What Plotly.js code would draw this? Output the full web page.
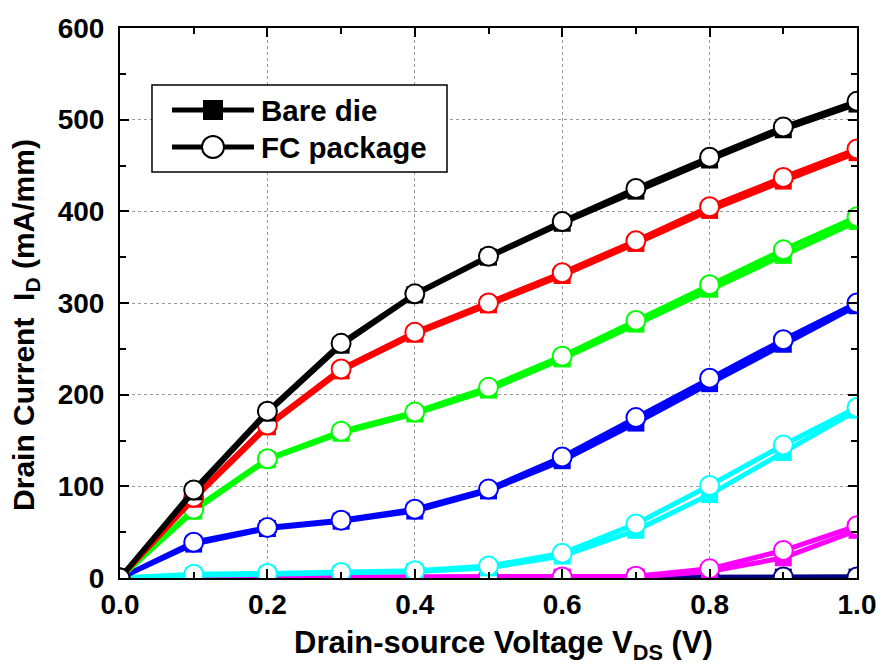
<!DOCTYPE html>
<html>
<head>
<meta charset="utf-8">
<script src="https://cdn.plot.ly/plotly-3.0.1.min.js"></script>
<style>html,body{margin:0;padding:0;background:#fff;}#chart{width:883px;height:669px;}</style>
</head>
<body>
<div id="chart"></div>
<script>
const vds = [0.0, 0.1, 0.2, 0.3, 0.4, 0.5, 0.6, 0.7, 0.8, 0.9, 1.0];
const colors = ['#000080', '#ff00ff', '#00ffff', '#0000ff', '#00ff00', '#ff0000', '#000000'];
const bareNavy    = [0, 0, 0, 0, 0, 0, 0, 0, 1, 1, 1];
const fcNavy      = [0, 0, 0, 0, 0, 0, 0, 0, 1, 1, 1];
const bareMagenta = [0, 0, 0, 0, 1, 1, 1, 1, 7, 22, 52];
const fcMagenta   = [0, 1, 1, 1, 1, 1, 1, 2, 10, 30, 57];
const bareCyan    = [0, 3, 4, 5, 7, 11, 24, 52, 91, 137, 183];
const fcCyan      = [0, 4, 5, 6, 8, 13, 27, 59, 101, 145, 186];
const bareBlue    = [0, 37, 54, 62, 73, 95, 128, 169, 212, 255, 297];
const fcBlue      = [0, 39, 55, 63, 75, 97, 132, 175, 218, 260, 300];
const bareGreen   = [0, 73, 129, 158, 179, 205, 239, 277, 315, 352, 389];
const fcGreen     = [0, 75, 130, 160, 181, 208, 242, 281, 320, 358, 394];
const bareRed     = [0, 86, 165, 226, 266, 298, 330, 365, 401, 433, 464];
const fcRed       = [0, 88, 167, 228, 268, 300, 333, 368, 405, 437, 468];
const bareBlack   = [0, 94, 180, 254, 309, 350, 387, 422, 456, 489, 517];
const fcBlack     = [0, 96, 182, 256, 310, 351, 389, 425, 459, 492, 520];
const seriesNames = ['Bare die', 'FC package'];
const xTitle = 'Drain-source Voltage V<sub>DS</sub> (V)';
const yTitle = 'Drain Current  I<sub>D</sub> (mA/mm)';

const bare = [bareNavy, bareMagenta, bareCyan, bareBlue, bareGreen, bareRed, bareBlack];
const fc = [fcNavy, fcMagenta, fcCyan, fcBlue, fcGreen, fcRed, fcBlack];

const traces = [];
for (let i = 0; i < colors.length; i++) {
  const c = colors[i];
  traces.push({
    x: vds, y: bare[i], type: 'scatter', mode: 'lines+markers',
    name: seriesNames[0], showlegend: false,
    line: {color: c, width: 5},
    marker: {symbol: 'square', size: 17, color: c, line: {width: 0}}
  });
  traces.push({
    x: vds, y: fc[i], type: 'scatter', mode: 'lines+markers',
    name: seriesNames[1], showlegend: false,
    line: {color: c, width: 5},
    marker: {symbol: 'circle', size: 19, color: '#ffffff', line: {color: c, width: 2}}
  });
}

const FONT = 'Liberation Sans, Arial, sans-serif';
const tickFont = {family: FONT, size: 28, color: '#000', weight: 'bold'};

// custom legend (paper coordinates = plot area fractions)
const lg = {x0: 0.0434, x1: 0.4437, y0: 0.7382, y1: 0.8964,
            lx0: 0.0706, lx1: 0.1818, mx: 0.1262, tx: 0.1887, rows: [0.8509, 0.7836]};
const shapes = [
  {type: 'rect', xref: 'paper', yref: 'paper', x0: lg.x0, x1: lg.x1, y0: lg.y0, y1: lg.y1,
   line: {color: '#000', width: 1.5}, fillcolor: '#fff', layer: 'above'},
  {type: 'line', xref: 'paper', yref: 'paper', x0: lg.lx0, x1: lg.lx1, y0: lg.rows[0], y1: lg.rows[0],
   line: {color: '#000', width: 5}, layer: 'above'},
  {type: 'rect', xref: 'paper', yref: 'paper', xsizemode: 'pixel', ysizemode: 'pixel',
   xanchor: lg.mx, yanchor: lg.rows[0], x0: -10, x1: 10, y0: -10, y1: 10,
   line: {width: 0}, fillcolor: '#000', layer: 'above'},
  {type: 'line', xref: 'paper', yref: 'paper', x0: lg.lx0, x1: lg.lx1, y0: lg.rows[1], y1: lg.rows[1],
   line: {color: '#000', width: 5}, layer: 'above'},
  {type: 'circle', xref: 'paper', yref: 'paper', xsizemode: 'pixel', ysizemode: 'pixel',
   xanchor: lg.mx, yanchor: lg.rows[1], x0: -11, x1: 11, y0: -11, y1: 11,
   line: {color: '#000', width: 2}, fillcolor: '#fff', layer: 'above'}
];
const annotations = seriesNames.map((n, k) => ({
  xref: 'paper', yref: 'paper', x: lg.tx, y: lg.rows[k], xanchor: 'left', yanchor: 'middle',
  text: n, showarrow: false, font: {family: FONT, size: 29.5, color: '#000', weight: 'bold'}
}));
// axis titles placed as annotations to match the reference offsets
annotations.push({
  xref: 'paper', yref: 'paper', x: -0.129, y: 0.46, xanchor: 'center', yanchor: 'middle',
  textangle: -90, text: yTitle, showarrow: false,
  font: {family: FONT, size: 30, color: '#000', weight: 'bold'}
});
annotations.push({
  xref: 'paper', yref: 'paper', x: 0.521, y: -0.122, xanchor: 'center', yanchor: 'middle',
  text: xTitle, showarrow: false,
  font: {family: FONT, size: 31, color: '#000', weight: 'bold'}
});

const layout = {
  width: 883, height: 669,
  margin: {l: 120, r: 26, t: 28, b: 91},
  paper_bgcolor: '#fff', plot_bgcolor: '#fff',
  showlegend: false,
  shapes: shapes,
  annotations: annotations,
  xaxis: {
    range: [0, 1.0], dtick: 0.2, tick0: 0, tickformat: '.1f',
    ticks: 'inside', ticklen: 9, tickwidth: 2, tickcolor: '#000',
    minor: {dtick: 0.1, ticks: 'inside', ticklen: 6, tickwidth: 2, tickcolor: '#000', showgrid: false},
    showline: true, linewidth: 2, linecolor: '#000', mirror: 'ticks',
    showgrid: true, gridcolor: '#999', griddash: 'dot', gridwidth: 1,
    zeroline: false, tickfont: tickFont, ticklabelstandoff: 0
  },
  yaxis: {
    range: [0, 600], dtick: 100, tick0: 0,
    ticks: 'inside', ticklen: 9, tickwidth: 2, tickcolor: '#000',
    minor: {dtick: 50, ticks: 'inside', ticklen: 6, tickwidth: 2, tickcolor: '#000', showgrid: false},
    showline: true, linewidth: 2, linecolor: '#000', mirror: 'ticks',
    showgrid: true, gridcolor: '#999', griddash: 'dot', gridwidth: 1,
    zeroline: false, tickfont: tickFont, ticklabelstandoff: 8
  }
};

Plotly.newPlot('chart', traces, layout, {displayModeBar: false, staticPlot: true});
</script>
</body>
</html>
